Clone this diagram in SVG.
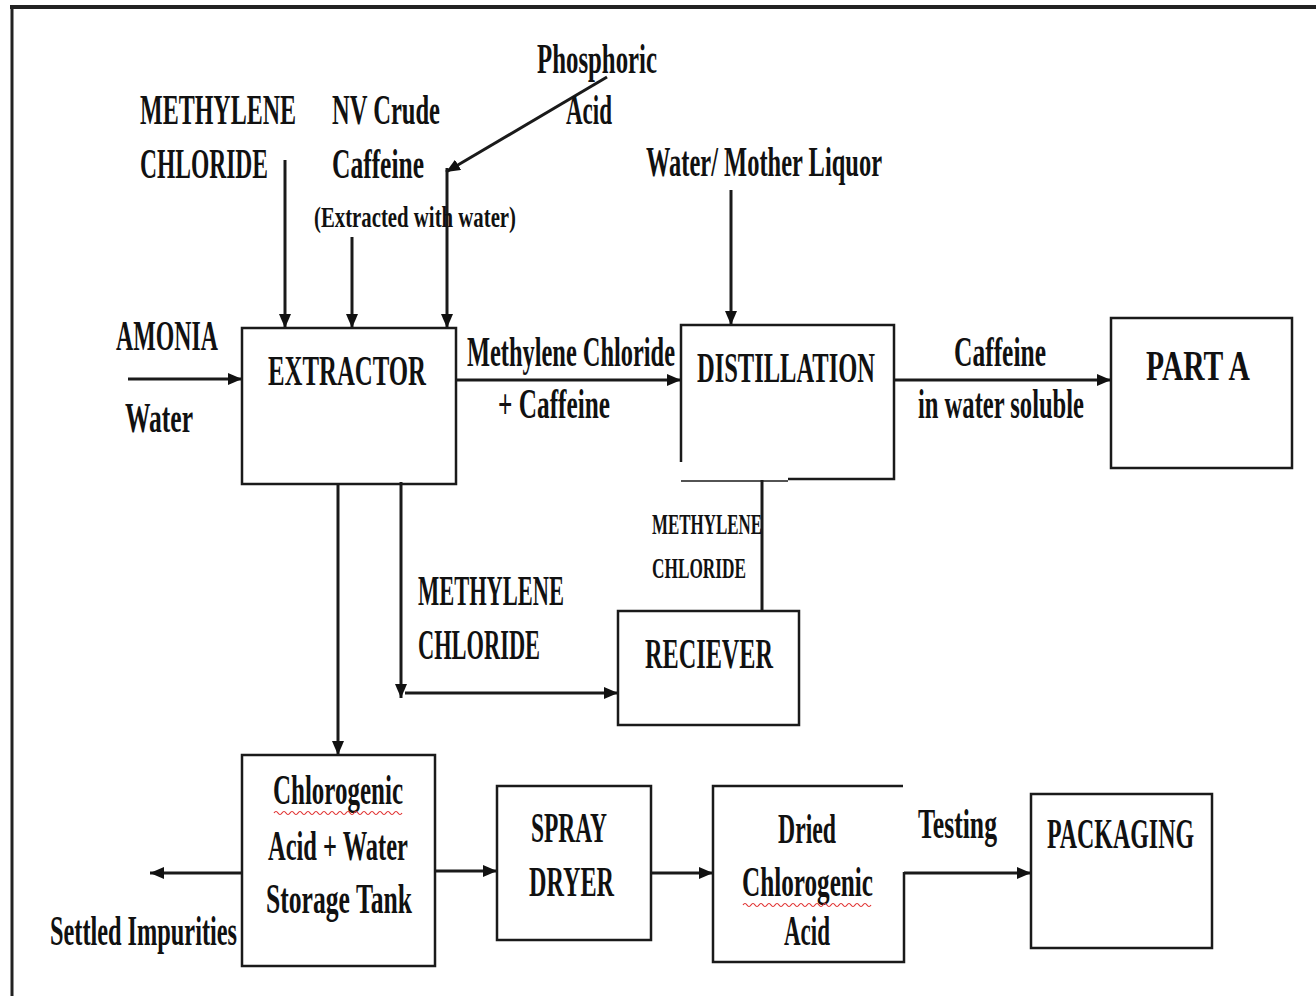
<svg xmlns="http://www.w3.org/2000/svg" width="1316" height="996" viewBox="0 0 1316 996">
<style>
text{font-family:"Liberation Serif","Times New Roman",serif;font-weight:bold;fill:#111;}
.l{font-size:42px;}
.s{font-size:30px;}
.box{fill:none;stroke:#1a1a1a;stroke-width:2.5;}
.c{fill:none;stroke:#1a1a1a;stroke-width:3;}
.sq{fill:none;stroke:#e03030;stroke-width:1.2;}
</style>
<defs>
<marker id="ah" viewBox="0 0 14 12" refX="14" refY="6" markerWidth="14" markerHeight="12" markerUnits="userSpaceOnUse" orient="auto">
<path d="M0,0 L14,6 L0,12 z" fill="#111"/>
</marker>
</defs>
<rect width="1316" height="996" fill="#fff"/>
<g id="frame">
<line x1="10" y1="7" x2="1316" y2="7" stroke="#222" stroke-width="4"/>
<line x1="12" y1="6" x2="12" y2="996" stroke="#222" stroke-width="3"/>
</g>
<g id="connectors">
<line class="c" x1="128" y1="379" x2="242" y2="379" marker-end="url(#ah)"/>
<line class="c" x1="285" y1="160" x2="285" y2="328" stroke-width="2" marker-end="url(#ah)"/>
<line class="c" x1="352" y1="237" x2="352" y2="328" stroke-width="2" marker-end="url(#ah)"/>
<line class="c" x1="607" y1="77" x2="446" y2="172" marker-end="url(#ah)"/>
<line class="c" x1="447" y1="168" x2="447" y2="328" stroke-width="2" marker-end="url(#ah)"/>
<line class="c" x1="731" y1="190" x2="731" y2="325" stroke-width="2" marker-end="url(#ah)"/>
<line class="c" x1="456" y1="380" x2="681" y2="380" marker-end="url(#ah)"/>
<line class="c" x1="894" y1="380" x2="1111" y2="380" marker-end="url(#ah)"/>
<line class="c" x1="762" y1="480" x2="762" y2="611" stroke-width="2"/>
<line class="c" x1="401" y1="482" x2="401" y2="698" stroke-width="2" marker-end="url(#ah)"/>
<line class="c" x1="405" y1="693" x2="618" y2="693" marker-end="url(#ah)"/>
<line class="c" x1="338" y1="484" x2="338" y2="755" stroke-width="2" marker-end="url(#ah)"/>
<line class="c" x1="242" y1="873" x2="150" y2="873" marker-end="url(#ah)"/>
<line class="c" x1="435" y1="871" x2="497" y2="871" marker-end="url(#ah)"/>
<line class="c" x1="651" y1="873" x2="713" y2="873" marker-end="url(#ah)"/>
<line class="c" x1="904" y1="873" x2="1031" y2="873" marker-end="url(#ah)"/>
</g>
<g id="labels">
<text class="l" x="140" y="124" textLength="156" lengthAdjust="spacingAndGlyphs">METHYLENE</text>
<text class="l" x="140" y="178" textLength="128" lengthAdjust="spacingAndGlyphs">CHLORIDE</text>
<text class="l" x="332" y="124" textLength="108" lengthAdjust="spacingAndGlyphs">NV Crude</text>
<text class="l" x="332" y="178" textLength="92" lengthAdjust="spacingAndGlyphs">Caffeine</text>
<text class="s" x="314" y="227" textLength="202" lengthAdjust="spacingAndGlyphs">(Extracted with water)</text>
<text class="l" x="537" y="73" textLength="120" lengthAdjust="spacingAndGlyphs">Phosphoric</text>
<text class="l" x="566" y="124" textLength="46" lengthAdjust="spacingAndGlyphs">Acid</text>
<text class="l" x="646" y="176" textLength="236" lengthAdjust="spacingAndGlyphs">Water/ Mother Liquor</text>
<text class="l" x="116" y="350" textLength="102" lengthAdjust="spacingAndGlyphs">AMONIA</text>
<text class="l" x="125" y="432" textLength="68" lengthAdjust="spacingAndGlyphs">Water</text>
<text class="l" x="467" y="366" textLength="208" lengthAdjust="spacingAndGlyphs">Methylene Chloride</text>
<text class="l" x="498" y="418" textLength="112" lengthAdjust="spacingAndGlyphs">+ Caffeine</text>
<text class="l" x="954" y="366" textLength="92" lengthAdjust="spacingAndGlyphs">Caffeine</text>
<text class="l" x="918" y="418" textLength="166" lengthAdjust="spacingAndGlyphs">in water soluble</text>
<text class="s" x="652" y="534" textLength="110" lengthAdjust="spacingAndGlyphs">METHYLENE</text>
<text class="s" x="652" y="578" textLength="94" lengthAdjust="spacingAndGlyphs">CHLORIDE</text>
<text class="l" x="418" y="605" textLength="146" lengthAdjust="spacingAndGlyphs">METHYLENE</text>
<text class="l" x="418" y="659" textLength="122" lengthAdjust="spacingAndGlyphs">CHLORIDE</text>
<text class="l" x="50" y="945" textLength="187" lengthAdjust="spacingAndGlyphs">Settled Impurities</text>
<text class="l" x="918" y="838" textLength="79" lengthAdjust="spacingAndGlyphs">Testing</text>
</g>
<g id="extractor">
<rect class="box" x="242" y="328" width="214" height="156"/>
<text class="l" x="268" y="385" textLength="158" lengthAdjust="spacingAndGlyphs">EXTRACTOR</text>
</g>
<g id="distillation">
<path class="box" d="M681,462 V325 H894 V479 H788"/>
<line x1="681" y1="481" x2="788" y2="481" stroke="#1a1a1a" stroke-width="1.5"/>
<text class="l" x="697" y="382" textLength="178" lengthAdjust="spacingAndGlyphs">DISTILLATION</text>
</g>
<g id="part-a">
<rect class="box" x="1111" y="318" width="181" height="150"/>
<text class="l" x="1146" y="380" textLength="104" lengthAdjust="spacingAndGlyphs">PART A</text>
</g>
<g id="reciever">
<rect class="box" x="618" y="611" width="181" height="114"/>
<text class="l" x="645" y="668" textLength="128" lengthAdjust="spacingAndGlyphs">RECIEVER</text>
</g>
<g id="storage-tank">
<rect class="box" x="242" y="755" width="193" height="211"/>
<text class="l" x="273" y="804" textLength="130" lengthAdjust="spacingAndGlyphs">Chlorogenic</text>
<path class="sq" d="M274,813 q2,-3 4,0 t4,0 t4,0 t4,0 t4,0 t4,0 t4,0 t4,0 t4,0 t4,0 t4,0 t4,0 t4,0 t4,0 t4,0 t4,0 t4,0 t4,0 t4,0 t4,0 t4,0 t4,0 t4,0 t4,0 t4,0 t4,0 t4,0 t4,0 t4,0 t4,0 t4,0 t4,0"/>
<text class="l" x="268" y="860" textLength="140" lengthAdjust="spacingAndGlyphs">Acid + Water</text>
<text class="l" x="266" y="913" textLength="146" lengthAdjust="spacingAndGlyphs">Storage Tank</text>
</g>
<g id="spray-dryer">
<rect class="box" x="497" y="786" width="154" height="154"/>
<text class="l" x="531" y="842" textLength="76" lengthAdjust="spacingAndGlyphs">SPRAY</text>
<text class="l" x="529" y="896" textLength="85" lengthAdjust="spacingAndGlyphs">DRYER</text>
</g>
<g id="dried-acid">
<path class="box" d="M903,786 H713 V962 H904 V872"/>
<text class="l" x="778" y="843" textLength="58" lengthAdjust="spacingAndGlyphs">Dried</text>
<text class="l" x="742" y="896" textLength="131" lengthAdjust="spacingAndGlyphs">Chlorogenic</text>
<path class="sq" d="M743,905 q2,-3 4,0 t4,0 t4,0 t4,0 t4,0 t4,0 t4,0 t4,0 t4,0 t4,0 t4,0 t4,0 t4,0 t4,0 t4,0 t4,0 t4,0 t4,0 t4,0 t4,0 t4,0 t4,0 t4,0 t4,0 t4,0 t4,0 t4,0 t4,0 t4,0 t4,0 t4,0 t4,0"/>
<text class="l" x="784" y="945" textLength="46" lengthAdjust="spacingAndGlyphs">Acid</text>
</g>
<g id="packaging">
<rect class="box" x="1031" y="794" width="181" height="154"/>
<text class="l" x="1047" y="848" textLength="147" lengthAdjust="spacingAndGlyphs">PACKAGING</text>
</g>
</svg>
